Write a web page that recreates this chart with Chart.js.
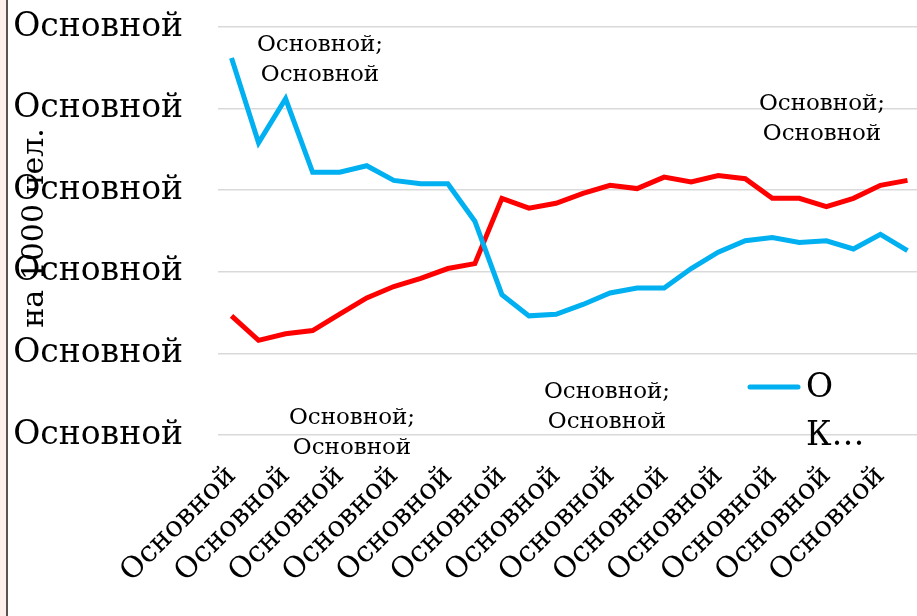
<!DOCTYPE html>
<html>
<head>
<meta charset="utf-8">
<script src="https://cdn.jsdelivr.net/npm/chart.js@4.4.1/dist/chart.umd.min.js"></script>
<style>
    html, body { margin: 0; padding: 0; background: #fff; overflow: hidden; }
    #wrap { position: relative; width: 917px; height: 616px; overflow: hidden; }
    #edge { position: absolute; left: 0; top: 0; width: 6px; height: 616px; background: #fcefec; border-right: 2px solid #5b5252; }
    canvas { position: absolute; left: 0; top: 0; }
</style>
</head>
<body>
<div id="wrap">
    <canvas id="rateChart" width="921" height="616"></canvas>
    <div id="edge"></div>
</div>
<script>
// categories (all labels read the same in the picture)
const categories = [
    'Основной', 'Основной', 'Основной', 'Основной', 'Основной', 'Основной',
    'Основной', 'Основной', 'Основной', 'Основной', 'Основной', 'Основной',
    'Основной', 'Основной', 'Основной', 'Основной', 'Основной', 'Основной',
    'Основной', 'Основной', 'Основной', 'Основной', 'Основной', 'Основной',
    'Основной', 'Основной'
];

// series values (scale 0..250)
const blueValues = [231, 179, 206, 161, 161, 165, 156, 154, 154, 131, 86, 73, 74,
                    80, 87, 90, 90, 102, 112, 119, 121, 118, 119, 114, 123, 113];
const redValues = [73, 58, 62, 64, 74, 84, 91, 96, 102, 105, 145, 139, 142,
                   148, 153, 151, 158, 155, 159, 157, 145, 145, 140, 145, 153, 156];

const yTickLabels = ['Основной', 'Основной', 'Основной', 'Основной', 'Основной', 'Основной'];
const yTitle = 'на 1000 чел.';
const legendLines = ['О', 'К…'];
const pointNotes = ['Основной;', 'Основной'];

const SERIF = '"DejaVu Serif", serif';

// text that sits over the plot: axis title, notes, legend
const overlayText = {
    id: 'overlayText',
    afterDraw(chart) {
        const ctx = chart.ctx;
        ctx.save();
        ctx.fillStyle = '#000';

        // y-axis title (overlaps the tick labels, like the original)
        ctx.save();
        ctx.translate(35, 228);
        ctx.rotate(-Math.PI / 2);
        ctx.font = '30px ' + SERIF;
        ctx.textAlign = 'center';
        ctx.textBaseline = 'middle';
        ctx.fillText(yTitle, 0, 0);
        ctx.restore();

        // data notes
        ctx.font = '23px ' + SERIF;
        ctx.textAlign = 'center';
        ctx.textBaseline = 'middle';
        const spots = [[320, 45], [822, 104], [607, 392], [352, 418]];
        spots.forEach(function(s) {
            ctx.fillText(pointNotes[0], s[0], s[1]);
            ctx.fillText(pointNotes[1], s[0], s[1] + 30);
        });

        // legend
        ctx.strokeStyle = '#00B0F0';
        ctx.lineWidth = 5;
        ctx.lineCap = 'round';
        ctx.beginPath();
        ctx.moveTo(750, 387);
        ctx.lineTo(798, 387);
        ctx.stroke();
        ctx.font = '33px ' + SERIF;
        ctx.textAlign = 'left';
        ctx.fillText(legendLines[0], 806, 388);
        ctx.fillText(legendLines[1], 806, 436);

        ctx.restore();
    }
};

const chart = new Chart(document.getElementById('rateChart'), {
    type: 'line',
    data: {
        labels: categories,
        datasets: [
            {
                label: 'О К…',
                data: blueValues,
                borderColor: '#00B0F0',
                borderWidth: 5,
                pointRadius: 0,
                tension: 0
            },
            {
                label: 'red',
                data: redValues,
                borderColor: '#FF0000',
                borderWidth: 5,
                pointRadius: 0,
                tension: 0
            }
        ]
    },
    options: {
        responsive: false,
        animation: false,
        layout: { padding: { top: 27, left: 0, right: 0, bottom: 0 } },
        plugins: {
            legend: { display: false },
            tooltip: { enabled: false }
        },
        scales: {
            x: {
                offset: true,
                grid: { display: false },
                border: { display: false },
                ticks: {
                    autoSkip: false,
                    maxRotation: 45,
                    minRotation: 45,
                    padding: 16,
                    color: '#000',
                    font: { family: SERIF, size: 29 },
                    callback: function(value, index) {
                        return index % 2 === 0 ? categories[index] : '';
                    }
                },
                afterFit: function(scale) {
                    scale.height = 181;
                    scale.paddingLeft = 0;
                    scale.paddingRight = 0;
                }
            },
            y: {
                min: 0,
                max: 250,
                border: { display: false },
                grid: { color: '#d9d9d9', lineWidth: 1.5, drawTicks: false },
                ticks: {
                    stepSize: 50,
                    padding: 35,
                    color: '#000',
                    font: { family: SERIF, size: 33 },
                    callback: function(value, index) {
                        return yTickLabels[index];
                    }
                },
                afterFit: function(scale) {
                    scale.width = 218;
                    scale.paddingTop = 0;
                    scale.paddingBottom = 0;
                }
            }
        }
    },
    plugins: [overlayText]
});
</script>
</body>
</html>
